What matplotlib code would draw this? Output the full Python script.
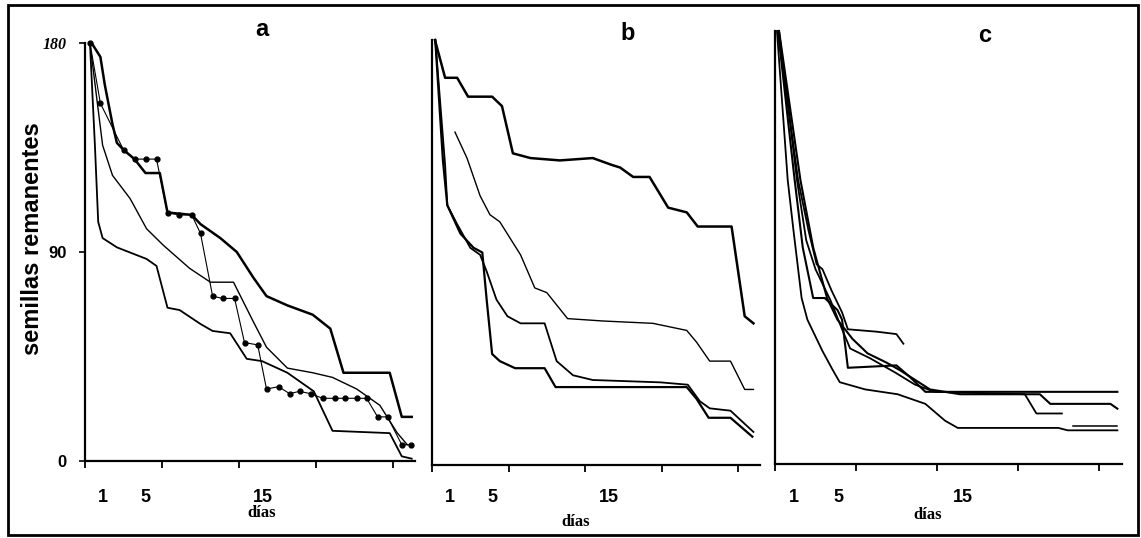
import matplotlib
matplotlib.use("Agg")
import matplotlib.pyplot as plt
from matplotlib import transforms
from matplotlib.patches import Rectangle

# ======================
# DATOS (días, semillas remanentes)
# ======================
# panel a
a1_dias = [0.45, 0.9, 1.2, 1.6, 2.9, 5.6, 6.5, 7.5, 8.6, 10.5, 11.6, 13.2, 14.7, 16.1, 18.4, 20.8, 22.5, 27.7, 28.8, 29.7]
a1_sem = [180, 136, 103, 96, 92, 87, 84, 66, 65, 59, 56, 55, 44, 43, 38, 30, 13, 12, 2, 1]

a2_dias = [0.45, 1.1, 1.6, 2.5, 4.1, 5.6, 7.1, 9.5, 11.4, 13.5, 15.3, 16.5, 18.4, 20.7, 22.5, 24.7, 26.8, 28.4, 29.3]
a2_sem = [180, 155, 136, 123, 113, 100, 93, 83, 77, 77, 60, 49, 40, 38, 36, 31, 24, 12, 7]

a3_dias = [0.6, 1.4, 1.8, 2.5, 2.9, 3.5, 4.5, 5.5, 6.8, 7.5, 9.7, 10.5, 12.3, 13.8, 15.3, 16.5, 18.4, 20.7, 22.3, 23.5, 27.7, 28.8, 29.7]
a3_sem = [180, 174, 162, 145, 137, 134, 130, 124, 124, 107, 106, 102, 96, 90, 79, 71, 67, 63, 57, 38, 38, 19, 19]

a4_dias = [0.45, 1.4, 3.5, 4.5, 5.5, 6.5, 7.5, 8.5, 9.7, 10.5, 11.6, 12.5, 13.6, 14.5, 15.7, 16.5, 17.6, 18.6,
           19.5, 20.5, 21.6, 22.7, 23.6, 24.7, 25.6, 26.6, 27.5, 28.8, 29.6]
a4_sem = [180, 154, 134, 130, 130, 130, 107, 106, 106, 98, 71, 70, 70, 51, 50, 31, 32, 29,
          30, 29, 27, 27, 27, 27, 27, 19, 19, 7, 7]

# panel b
b1_dias = [0.27, 1.2, 2.3, 3.3, 5.5, 6.4, 7.4, 9.0, 11.7, 14.7, 16.5, 17.2, 18.4, 19.9, 21.6, 23.3, 24.3, 27.4, 28.6, 29.4]
b1_sem = [180, 164, 164, 156, 156, 152, 132, 130, 129, 130, 127, 126, 122, 122, 109, 107, 101, 101, 63, 60]

b2_dias = [2.1, 3.2, 4.4, 5.3, 6.2, 8.1, 9.4, 10.5, 12.4, 15.6, 20.2, 23.3, 24.2, 25.4, 27.3, 28.6, 29.4]
b2_sem = [141, 130, 114, 106, 103, 89, 75, 73, 62, 61, 60, 57, 52, 44, 44, 32, 32]

b3_dias = [0.3, 1.2, 1.4, 2.3, 3.5, 4.4, 5.0, 5.9, 6.9, 8.1, 10.3, 11.4, 12.9, 14.7, 20.9, 23.4, 24.5, 25.4, 27.3, 29.4]
b3_sem = [180, 127, 110, 102, 92, 89, 82, 70, 63, 60, 60, 44, 38, 36, 35, 34, 27, 24, 23, 14]

b4_dias = [0.3, 1.0, 1.4, 2.6, 3.8, 4.6, 5.0, 5.5, 6.2, 7.6, 10.3, 11.3, 14.2, 23.3, 24.2, 25.3, 27.3, 29.3]
b4_sem = [180, 129, 110, 98, 92, 90, 70, 47, 44, 41, 41, 33, 33, 33, 28, 20, 20, 12]

# panel c
c1_dias = [0.17, 1.1, 1.6, 2.3, 2.8, 4.1, 5.0, 5.6, 7.8, 10.6, 13.0, 14.7, 15.8, 24.5, 25.3, 29.6]
c1_sem = [180, 118, 97, 69, 60, 47, 39, 34, 31, 29, 25, 18, 15, 15, 14, 14]

c2_dias = [0.26, 1.7, 2.4, 3.3, 4.3, 5.4, 5.8, 6.3, 10.5, 11.7, 13.0, 19.4, 29.6]
c2_sem = [180, 118, 90, 69, 69, 64, 60, 40, 41, 36, 30, 30, 30]

c3_dias = [0.26, 2.0, 2.9, 3.6, 4.1, 4.9, 5.8, 6.3, 8.8, 10.5, 11.1]
c3_sem = [180, 118, 97, 83, 81, 72, 63, 56, 55, 54, 50]

c4_dias = [0.35, 2.2, 3.3, 4.5, 5.4, 6.7, 8.0, 9.7, 10.8, 12.1, 13.4, 16.0, 22.9, 23.8, 29.0, 29.6]
c4_sem = [180, 118, 90, 69, 60, 52, 46, 42, 39, 35, 31, 29, 29, 25, 25, 23]

c5_dias = [0.35, 1.9, 2.7, 3.5, 4.8, 5.8, 6.5, 8.2, 10.4, 12.1, 13.8, 21.6, 22.6, 24.8]
c5_sem = [180, 118, 93, 81, 68, 56, 48, 44, 38, 33, 30, 29, 21, 21]
c5b_dias = [25.8, 29.6]
c5b_sem = [16, 16]

etiquetas_x = ["1", "5", "15"]
pos_etiq_x = [1.6, 5.5, 16.2]

# ======================
# FIGURA
# ======================
W, H = 1141, 538
fig = plt.figure(figsize=(W / 100, H / 100), dpi=100)

SANS = ["Liberation Sans", "DejaVu Sans"]
SERIF = ["Liberation Serif", "DejaVu Serif"]


def px_axes(x0, x1, ytop, ybot):
    return fig.add_axes([x0 / W, 1 - ybot / H, (x1 - x0) / W, (ybot - ytop) / H])


def estilo(ax):
    ax.set_xlim(0, 30)
    ax.set_ylim(0, 180)
    ax.spines["top"].set_visible(False)
    ax.spines["right"].set_visible(False)
    for s in ("left", "bottom"):
        ax.spines[s].set_linewidth(1.6)
    ax.set_xticks([0, 7, 14, 21, 28])
    ax.set_xticklabels([])
    ax.tick_params(axis="x", direction="out", length=5, width=1.3)
    ax.set_facecolor("none")


def texto(ax, xd, py, s, **kw):
    tr = transforms.blended_transform_factory(ax.transData, fig.transFigure)
    ax.text(xd, 1 - py / H, s, transform=tr, ha="center", va="center", **kw)


ax_a = px_axes(85, 415, 43, 461)
ax_b = px_axes(432, 760, 40, 465)
ax_c = px_axes(775, 1122, 31, 464)

for ax in (ax_a, ax_b, ax_c):
    estilo(ax)

# panel a
ax_a.plot(a1_dias, a1_sem, color="black", lw=1.3, clip_on=False)
ax_a.plot(a2_dias, a2_sem, color="black", lw=1.0, clip_on=False)
ax_a.plot(a3_dias, a3_sem, color="black", lw=1.8, clip_on=False)
ax_a.plot(a4_dias, a4_sem, color="black", lw=0.8, marker="o", ms=3.5, clip_on=False)

ax_a.set_yticks([0, 90, 180])
ax_a.set_yticklabels(["0", "90", "180"])
ax_a.tick_params(axis="y", direction="out", length=4, width=1.2, pad=9)
for lab in ax_a.get_yticklabels():
    lab.set_fontweight("bold")
    lab.set_fontsize(12)
    lab.set_family(SANS)
lab180 = ax_a.get_yticklabels()[2]
lab180.set_family(SERIF)
lab180.set_fontstyle("italic")
lab180.set_fontsize(11.5)

# panel b
ax_b.plot(b1_dias, b1_sem, color="black", lw=1.8, clip_on=False)
ax_b.plot(b2_dias, b2_sem, color="black", lw=1.0, clip_on=False)
ax_b.plot(b3_dias, b3_sem, color="black", lw=1.3, clip_on=False)
ax_b.plot(b4_dias, b4_sem, color="black", lw=1.6, clip_on=False)
ax_b.set_yticks([])

# panel c
ax_c.plot(c1_dias, c1_sem, color="black", lw=1.3, clip_on=False)
ax_c.plot(c2_dias, c2_sem, color="black", lw=1.5, clip_on=False)
ax_c.plot(c3_dias, c3_sem, color="black", lw=1.3, clip_on=False)
ax_c.plot(c4_dias, c4_sem, color="black", lw=1.5, clip_on=False)
ax_c.plot(c5_dias, c5_sem, color="black", lw=1.3, clip_on=False)
ax_c.plot(c5b_dias, c5b_sem, color="black", lw=1.1, clip_on=False)
ax_c.set_yticks([])

# letras, etiquetas de dias
letras = [(ax_a, "a", 16.1, 30), (ax_b, "b", 17.9, 33), (ax_c, "c", 18.1, 35)]
for ax, l, xd, py in letras:
    texto(ax, xd, py, l, fontsize=17, fontweight="bold", family=SANS)

y_etiq = [497, 498, 497]
dias_pos = [(16.1, 513), (13.1, 522), (13.2, 515)]
for ax, ye, (xd, yd) in zip((ax_a, ax_b, ax_c), y_etiq, dias_pos):
    for xl, s in zip(pos_etiq_x, etiquetas_x):
        texto(ax, xl, ye, s, fontsize=13, fontweight="bold", family=SANS)
    texto(ax, xd, yd, "días", fontsize=12, fontweight="bold", family=SERIF)

fig.text(33 / W, 1 - 239 / H, "semillas remanentes", rotation=90, ha="center", va="center",
         fontsize=17, fontweight="bold", family=SANS)

# marco exterior
fig.patches.append(Rectangle((8 / W, 3 / H), 1130 / W, 530 / H, transform=fig.transFigure,
                             fill=False, edgecolor="black", lw=2.0))

fig.savefig("out.png", dpi=100)
